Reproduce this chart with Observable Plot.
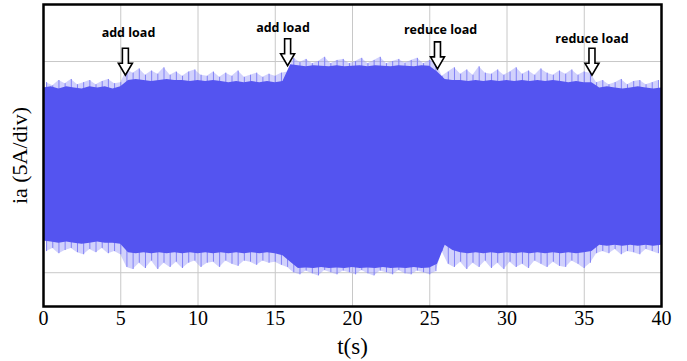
<!DOCTYPE html>
<html>
<head>
<meta charset="utf-8">
<script src="https://cdn.jsdelivr.net/npm/d3@7"></script>
<script src="https://cdn.jsdelivr.net/npm/@observablehq/plot@0.6"></script>
<style>
  html, body { margin: 0; padding: 0; background: white; }
</style>
</head>
<body>
<div id="chart"></div>
<script>
// x tick labels (time, s)
const xTicks = [0, 5, 10, 15, 20, 25, 30, 35, 40];
// horizontal grid levels (A), 5 A per division
const yGrid = [-5, 0, 5];

// envelope of phase current ia (A), every 0.5 s
const envT = [0,0.5,1,1.5,2,2.5,3,3.5,4,4.5,5,
  5.5,6,6.5,7,7.5,8,8.5,9,9.5,10,10.5,11,11.5,12,12.5,13,13.5,14,14.5,15,15.5,
  16,16.5,17,17.5,18,18.5,19,19.5,20,20.5,21,21.5,22,22.5,23,23.5,24,24.5,25,
  25.5,
  26,26.5,27,27.5,28,28.5,29,29.5,30,30.5,31,31.5,32,32.5,33,33.5,34,34.5,35,35.5,
  36,36.5,37,37.5,38,38.5,39,39.5,40];
const envHi = [3.75,3.8,3.7,3.8,3.75,3.7,3.8,3.75,3.8,3.7,3.8,
  4.1,4.15,4.1,4.05,4.1,4.15,4.1,4.1,4.05,4.1,4.05,4.1,4.05,4.0,4.05,4.0,4.05,4.0,4.05,4.0,4.05,
  4.85,4.8,4.75,4.8,4.78,4.75,4.8,4.75,4.78,4.8,4.75,4.8,4.78,4.75,4.8,4.78,4.75,4.8,4.78,
  4.5,
  4.15,4.1,4.1,4.05,4.1,4.05,4.1,4.05,4.1,4.05,4.1,4.05,4.1,4.05,4.1,4.05,4.0,4.05,4.0,4.0,
  3.75,3.8,3.75,3.7,3.75,3.8,3.75,3.7,3.75];
const envLo = [-3.5,-3.55,-3.6,-3.55,-3.6,-3.65,-3.6,-3.55,-3.6,-3.6,-3.65,
  -4.05,-4.1,-4.05,-4.1,-4.05,-4.1,-4.05,-4.1,-4.05,-4.1,-4.05,-4.1,-4.05,-4.1,-4.05,-4.1,-4.05,-4.1,-4.05,-4.1,-4.2,
  -4.5,-4.8,-4.78,-4.8,-4.75,-4.8,-4.78,-4.8,-4.75,-4.8,-4.78,-4.8,-4.75,-4.8,-4.78,-4.8,-4.75,-4.8,-4.78,
  -4.6,
  -3.7,-3.95,-4.05,-4.1,-4.05,-4.1,-4.05,-4.1,-4.05,-4.1,-4.05,-4.1,-4.05,-4.1,-4.05,-4.1,-4.05,-4.1,-4.05,-4.0,
  -3.7,-3.75,-3.7,-3.75,-3.7,-3.75,-3.7,-3.75,-3.7];

// peak spikes of the waveform (A)
const spikeT = [0.2,0.6,1.0,1.4,1.8,2.2,2.6,3.0,3.4,3.8,4.2,4.6,5.0,
  5.4,5.8,6.2,6.6,7.0,7.4,7.8,8.2,8.6,9.0,9.4,9.8,10.2,10.6,11.0,11.4,11.8,12.2,12.6,13.0,13.4,13.8,14.2,14.6,15.0,15.4,15.8,
  16.2,16.6,17.0,17.4,17.8,18.2,18.6,19.0,19.4,19.8,20.2,20.6,21.0,21.4,21.8,22.2,22.6,23.0,23.4,23.8,24.2,24.6,25.0,25.4,
  25.8,26.2,26.6,27.0,27.4,27.8,28.2,28.6,29.0,29.4,29.8,30.2,30.6,31.0,31.4,31.8,32.2,32.6,33.0,33.4,33.8,34.2,34.6,35.0,35.4,
  35.8,36.2,36.6,37.0,37.4,37.8,38.2,38.6,39.0,39.4,39.8];
const spikeHi = [4.0,3.85,4.1,3.95,4.15,3.9,4.0,4.1,3.9,4.05,4.15,3.95,4.0,
  4.6,4.45,4.65,4.35,4.55,4.4,4.7,4.35,4.5,4.3,4.5,4.6,4.35,4.3,4.5,4.25,4.45,4.3,4.55,4.25,4.35,4.45,4.25,4.4,4.3,4.45,4.5,
  5.15,4.95,5.1,4.9,5.0,5.2,4.9,5.05,5.1,4.9,5.0,5.15,4.9,5.05,5.2,4.9,5.0,5.1,4.92,5.05,5.15,4.9,5.05,4.95,
  4.3,4.5,4.7,4.4,4.6,4.35,4.75,4.45,4.4,4.6,4.35,4.5,4.7,4.4,4.55,4.35,4.65,4.45,4.35,4.55,4.4,4.6,4.35,4.5,4.45,
  4.0,4.1,3.9,4.0,4.15,3.9,4.05,4.1,3.9,4.0,4.1];
const spikeLo = [-4.0,-3.85,-4.1,-3.95,-3.85,-4.05,-4.15,-3.9,-4.05,-3.85,-4.1,-4.0,-4.15,
  -4.75,-4.85,-4.55,-4.8,-4.45,-4.85,-4.55,-4.75,-4.5,-4.8,-4.55,-4.45,-4.75,-4.55,-4.5,-4.75,-4.45,-4.6,-4.7,-4.45,-4.5,-4.65,-4.45,-4.55,-4.5,-4.65,-4.75,
  -5.0,-5.1,-4.92,-5.05,-5.15,-4.9,-5.0,-5.1,-4.92,-5.0,-5.1,-4.9,-5.05,-5.15,-4.92,-5.0,-5.1,-4.9,-5.05,-5.1,-4.92,-5.0,-5.1,-4.95,
  -4.0,-4.6,-4.75,-4.5,-4.85,-4.55,-4.75,-4.45,-4.8,-4.55,-4.85,-4.5,-4.75,-4.6,-4.8,-4.45,-4.6,-4.75,-4.5,-4.7,-4.75,-4.45,-4.6,-4.8,-4.55,
  -4.1,-4.0,-4.1,-3.9,-4.15,-4.0,-4.05,-4.15,-3.9,-4.0,-4.1];

// annotations
const annoText = ["add load", "add load", "reduce load", "reduce load"];
const annoT = [5.3, 15.8, 25.5, 35.5];      // arrow positions (s)
const annoTipY = [4.35, 4.8, 4.65, 4.35];   // arrow tip level (A)
const labelT = [5.5, 15.5, 25.7, 35.5];     // label centres (s)
const labelY = [6.33, 6.61, 6.47, 6.09];    // label levels (A)

const env = envT.map((t, i) => ({t, hi: envHi[i], lo: envLo[i]}));
const spikes = spikeT.map((t, i) => ({t, hi: spikeHi[i], lo: spikeLo[i]}));
const anno = annoText.map((s, i) => ({s, t: annoT[i], tip: annoTipY[i], lt: labelT[i], ly: labelY[i]}));

const hollowArrow = {
  draw(context, l) {
    const hw = 3, aw = 7, ah = 12;
    context.moveTo(-hw, 0);
    context.lineTo(-hw, -(l - ah));
    context.lineTo(-aw, -(l - ah));
    context.lineTo(0, -l);
    context.lineTo(aw, -(l - ah));
    context.lineTo(hw, -(l - ah));
    context.lineTo(hw, 0);
    context.closePath();
  }
};

const chart = Plot.plot({
  width: 687,
  height: 361,
  marginTop: 4,
  marginBottom: 55,
  marginLeft: 43,
  marginRight: 26,
  style: {fontFamily: "'Liberation Serif', serif", background: "white", color: "black"},
  x: {domain: [0, 40]},
  y: {domain: [-6.6, 7.7]},
  marks: [
    Plot.gridX(xTicks.slice(1, -1), {stroke: "#c8c8c8", strokeOpacity: 1}),
    Plot.gridY(yGrid, {stroke: "#c8c8c8", strokeOpacity: 1}),
    Plot.areaY(spikes, {x: "t", y1: "lo", y2: "hi", fill: "#9a9af8", fillOpacity: 0.45, curve: "linear"}),
    Plot.ruleX(spikes, {x: "t", y1: "lo", y2: "hi", stroke: "#8080f5", strokeWidth: 1}),
    Plot.areaY(env, {x: "t", y1: "lo", y2: "hi", fill: "#5454f0", curve: "linear"}),
    Plot.frame({stroke: "black", strokeWidth: 2.5}),
    Plot.axisX({ticks: xTicks, tickSize: 0, tickPadding: 4, fontSize: 20, label: null}),
    Plot.axisX({ticks: [], tickSize: 0, label: "t(s)", labelAnchor: "center", labelArrow: "none", labelOffset: 47, fontSize: 23}),
    Plot.axisY({ticks: [], tickSize: 0, label: "ia (5A/div)", labelAnchor: "center", labelArrow: "none", labelOffset: 32, fontSize: 22}),
    Plot.vector(anno, {x: "t", y: "tip", length: 27, rotate: 180, anchor: "end", shape: hollowArrow, fill: "white", stroke: "black", strokeWidth: 1.6, strokeLinejoin: "miter"}),
    Plot.text(anno, {x: "lt", y: "ly", text: "s", fontFamily: "'Open Sans', sans-serif", fontWeight: "bold", fontSize: 12.5, fill: "black"})
  ]
});
document.getElementById("chart").appendChild(chart);
</script>
</body>
</html>
